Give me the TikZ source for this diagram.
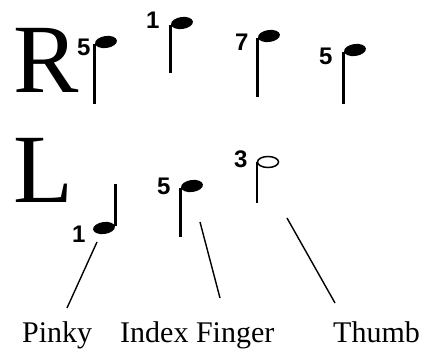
\documentclass[tikz,border=0pt]{standalone}
\usepackage{fontspec}
\setmainfont{Liberation Serif}
\newfontfamily\fingerfont{Liberation Sans}
\usetikzlibrary{shapes.geometric}

\tikzset{
  head/.style={ellipse,fill=black,inner sep=0pt,minimum width=22pt,minimum height=12pt,rotate=8},
  openhead/.style={ellipse,draw=black,line width=1.5pt,inner sep=0pt,minimum width=21pt,minimum height=11pt},
  stem/.style={line width=3pt},
  lead/.style={line width=1.4pt},
  hand/.style={inner sep=0pt,anchor=base west,font=\fontsize{98}{98}\selectfont},
  finger/.style={inner sep=0pt,anchor=base west,font=\fingerfont\bfseries\fontsize{24}{24}\selectfont},
  label/.style={inner sep=0pt,anchor=base west,font=\fontsize{30}{30}\selectfont}
}

\begin{document}
\begin{tikzpicture}[x=1pt,y=-1pt]
  \useasboundingbox (0,0) rectangle (429,354);

  % right hand
  \node[hand] (R) at (13,92) {R};
  \node[finger] (fa) at (77,55) {5};
  \node[head] (ha) at (106,42) {};
  \draw[stem] (ha.west) -- ++(0,60);
  \node[finger] (fb) at (146,28) {1};
  \node[head] (hb) at (182,23) {};
  \draw[stem] (hb.west) -- ++(0,48);
  \node[finger] (fc) at (235,50) {7};
  \node[head] (hc) at (269,36) {};
  \draw[stem] (hc.west) -- ++(0,59);
  \node[finger] (fd) at (319,64) {5};
  \node[head] (hd) at (355,50) {};
  \draw[stem] (hd.west) -- ++(0,52);

  % left hand
  \node[hand] (L) at (13,202) {L};
  \node[finger] (fe) at (72,242) {1};
  \node[head] (he) at (104,228) {};
  \draw[stem] (he.east) -- ++(0,-42);
  \node[finger] (ff) at (157,194) {5};
  \node[head] (hf) at (192,186) {};
  \draw[stem] (hf.west) -- ++(0,49);
  \node[finger] (fg) at (234,167) {3};
  \node[openhead] (hg) at (268,162) {};
  \draw[line width=2.2pt] (hg.west) -- ++(0,41);

  % fingers
  \node[label] (pinky) at (22,342) {Pinky};
  \node[label] (index) at (120,342) {Index Finger};
  \node[label] (thumb) at (333,342) {Thumb};
  \coordinate (pa) at (97,242);
  \coordinate (pb) at (67,308);
  \coordinate (ia) at (200,222);
  \coordinate (ib) at (220,298);
  \coordinate (ta) at (287,218);
  \coordinate (tb) at (335,303);
  \draw[lead] (pa) -- (pb);
  \draw[lead] (ia) -- (ib);
  \draw[lead] (ta) -- (tb);
\end{tikzpicture}
\end{document}
